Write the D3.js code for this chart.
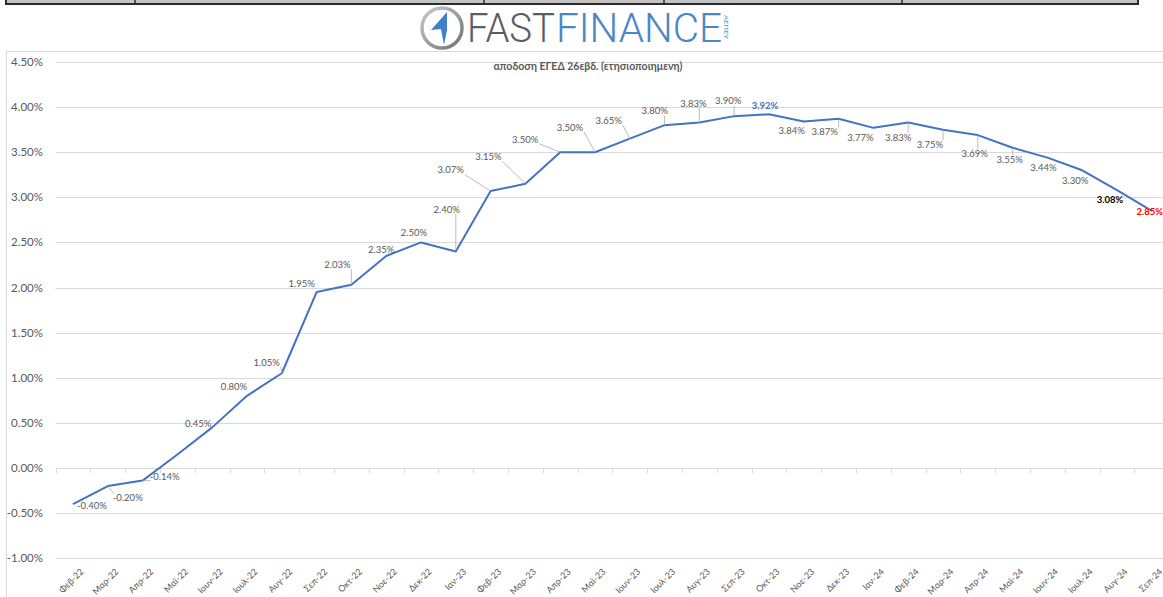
<!DOCTYPE html>
<html>
<head>
<meta charset="utf-8">
<title>ΕΓΕΔ 26εβδ.</title>
<script src="https://d3js.org/d3.v7.min.js"></script>
<style>
    body { margin: 0; background: #ffffff; }
    svg { display: block; font-family: Lato, "Open Sans", sans-serif; }
    .grid line { stroke: #d9d9d9; stroke-width: 1; }
    .ylab { fill: #595959; font-size: 11.5px; }
    .xlab { fill: #595959; font-size: 9px; }
    .dlab { fill: #595959; font-size: 9.5px; }
</style>
</head>
<body>
<svg></svg>
<script>
// months on the x axis
const months = ["Φεβ-22","Μαρ-22","Απρ-22","Μαϊ-22","Ιουν-22","Ιουλ-22","Αυγ-22","Σεπ-22","Οκτ-22","Νοε-22","Δεκ-22",
    "Ιαν-23","Φεβ-23","Μαρ-23","Απρ-23","Μαϊ-23","Ιουν-23","Ιουλ-23","Αυγ-23","Σεπ-23","Οκτ-23","Νοε-23","Δεκ-23",
    "Ιαν-24","Φεβ-24","Μαρ-24","Απρ-24","Μαϊ-24","Ιουν-24","Ιουλ-24","Αυγ-24","Σεπ-24"]

// annualised 26 week T-bill yield, in %
const yields = [-0.40,-0.20,-0.14,0.15,0.45,0.80,1.05,1.95,2.03,2.35,2.50,
    2.40,3.07,3.15,3.50,3.50,3.65,3.80,3.83,3.90,3.92,3.84,3.87,
    3.77,3.83,3.75,3.69,3.55,3.44,3.30,3.08,2.85]

// which points carry a data label (Μαϊ-22 has none)
const labelled = months.map((m, i) => i !== 3)

// y axis ticks
const yTicks = [-1, -0.5, 0, 0.5, 1, 1.5, 2, 2.5, 3, 3.5, 4, 4.5]

const title = "αποδοση ΕΓΕΔ 26εβδ. (ετησιοποιημενη)"

// label placement, offset of label centre from its point (layout only)
const labelDx = [19,20,22,0,-14,-13,-15,-15,-14,-5,-7,-9,-40,-37,-35,-25,-21,-10,-6,-6,-4,-12,-14,-13,-10,-13,-3,-3,-4,-7,-7,-2]
const labelDy = [2,12,-4,0,-4,-9,-11,-8,-20,-6,-10,-42,-21,-27,-13,-25,-18,-14,-19,-15,-9,9,13,10,15,15,19,12,10,10,10,1]

let width = 1163, height = 597

let svg = d3.select("svg")
    .attr("width", width)
    .attr("height", height)

// plain hyphen for negatives, like the original
let pct = d3.formatLocale({ decimal: ".", thousands: ",", grouping: [3], currency: ["", ""], minus: "-" })
    .format(".2f")
let fmt = d => pct(d) + "%"

// table strip at the very top
let strip = svg.append("g")
strip.append("rect")
    .attr("x", 6).attr("y", -6).attr("width", 1132).attr("height", 10)
    .attr("fill", "#c4c4c4").attr("stroke", "#2b2b2b").attr("stroke-width", 2)
;[135, 484, 664, 902].forEach(x => {
    strip.append("line")
        .attr("x1", x).attr("x2", x).attr("y1", -6).attr("y2", 4)
        .attr("stroke", "#2b2b2b").attr("stroke-width", 1.5)
})

// logo
let logo = svg.append("g")
let ring = svg.append("defs").append("linearGradient")
    .attr("id", "ring").attr("x1", 0).attr("y1", 0).attr("x2", 1).attr("y2", 1)
ring.append("stop").attr("offset", "0%").attr("stop-color", "#c9cbcf")
ring.append("stop").attr("offset", "100%").attr("stop-color", "#6f7277")
logo.append("circle")
    .attr("cx", 442).attr("cy", 28).attr("r", 20)
    .attr("fill", "none").attr("stroke", "url(#ring)").attr("stroke-width", 3.5)
logo.append("path")
    .attr("d", "M447,12 L431,30 L441,29 L444,45 L447,30 Z")
    .attr("fill", "#3f7fc6")
logo.append("text")
    .attr("x", 467).attr("y", 42)
    .attr("textLength", 88).attr("lengthAdjust", "spacingAndGlyphs")
    .style("font-family", "Roboto, sans-serif").style("font-size", "40px").style("font-weight", 300)
    .attr("fill", "#5a5d66")
    .text("FAST")
logo.append("text")
    .attr("x", 556).attr("y", 42)
    .attr("textLength", 166).attr("lengthAdjust", "spacingAndGlyphs")
    .style("font-family", "Roboto, sans-serif").style("font-size", "40px").style("font-weight", 300)
    .attr("fill", "#4a87c9")
    .text("FINANCE")
logo.append("text")
    .attr("transform", "translate(724,15) rotate(90)")
    .attr("textLength", 24).attr("lengthAdjust", "spacingAndGlyphs")
    .style("font-size", "6px").attr("fill", "#4a87c9")
    .text("ΑΕΠΕΥ")

// chart frame
svg.append("line")
    .attr("x1", 6).attr("x2", width).attr("y1", 51.5).attr("y2", 51.5)
    .attr("stroke", "#d9d9d9")
svg.append("line")
    .attr("x1", 6.5).attr("x2", 6.5).attr("y1", 51.5).attr("y2", height)
    .attr("stroke", "#d9d9d9")

// scales
let x = d3.scaleBand()
    .domain(months)
    .range([55.6, 1169.2])
    .paddingInner(0).paddingOuter(0)

let y = d3.scaleLinear()
    .domain([-1, 4.5])
    .range([558.2, 62])

let cx = d => x(d) + x.bandwidth() / 2

// gridlines
svg.append("g")
    .attr("class", "grid")
    .selectAll("line")
    .data(yTicks)
    .enter()
    .append("line")
    .attr("x1", 55.6).attr("x2", width)
    .attr("y1", d => Math.round(y(d)) + 0.5)
    .attr("y2", d => Math.round(y(d)) + 0.5)

// category ticks on the zero line
svg.append("g")
    .selectAll("line")
    .data(months.concat([null]))
    .enter()
    .append("line")
    .attr("x1", (d, i) => Math.round(55.6 + i * x.bandwidth()) + 0.5)
    .attr("x2", (d, i) => Math.round(55.6 + i * x.bandwidth()) + 0.5)
    .attr("y1", Math.round(y(0)) + 0.5)
    .attr("y2", Math.round(y(0)) + 5)
    .attr("stroke", "#d9d9d9")

// y labels
svg.append("g")
    .selectAll("text")
    .data(yTicks)
    .enter()
    .append("text")
    .attr("class", "ylab")
    .attr("x", 43)
    .attr("y", d => y(d))
    .attr("dy", "0.35em")
    .attr("text-anchor", "end")
    .text(fmt)

// x labels
svg.append("g")
    .selectAll("text")
    .data(months)
    .enter()
    .append("text")
    .attr("class", "xlab")
    .attr("transform", d => "translate(" + (cx(d) + 9) + ",570) rotate(-45)")
    .attr("text-anchor", "end")
    .attr("dy", "0.35em")
    .text(d => d)

// title
svg.append("text")
    .attr("x", 588).attr("y", 69.5)
    .attr("text-anchor", "middle")
    .style("font-size", "10.5px").style("font-weight", "bold")
    .attr("fill", "#595959")
    .text(title)

// line
let line = d3.line()
    .x((d, i) => cx(months[i]))
    .y(d => y(d))

svg.append("path")
    .datum(yields)
    .attr("d", line)
    .attr("fill", "none")
    .attr("stroke", "#4472c4")
    .attr("stroke-width", 2)
    .attr("stroke-linejoin", "round")

// data labels with leader lines
let pts = yields.map((v, i) => ({ v: v, i: i, px: cx(months[i]), py: y(v) }))
    .filter(d => labelled[d.i])

let leaders = svg.append("g")
let labels = svg.append("g")

pts.forEach(d => {
    let lx = d.px + labelDx[d.i], ly = d.py + labelDy[d.i]
    let w = 28, h = 9
    // nearest point on label box to the data point
    let qx = Math.max(lx - w / 2, Math.min(d.px, lx + w / 2))
    let qy = Math.max(ly - h / 2, Math.min(d.py, ly + h / 2))
    let dist = Math.hypot(d.px - qx, d.py - qy)
    if (dist > 6) {
        leaders.append("line")
            .attr("x1", qx).attr("y1", qy)
            .attr("x2", d.px).attr("y2", d.py)
            .attr("stroke", "#a6a6a6").attr("stroke-width", 0.75)
    }
    let t = labels.append("text")
        .attr("class", "dlab")
        .attr("x", lx).attr("y", ly)
        .attr("dy", "0.35em")
        .attr("text-anchor", "middle")
        .text(fmt(d.v))
    if (d.i === 20) t.style("fill", "#4472c4").style("font-weight", "bold")
    if (d.i === 30) t.style("fill", "#000000").style("font-weight", "bold")
    if (d.i === 31) t.style("fill", "#ff0000").style("font-weight", "bold")
})
</script>
</body>
</html>
